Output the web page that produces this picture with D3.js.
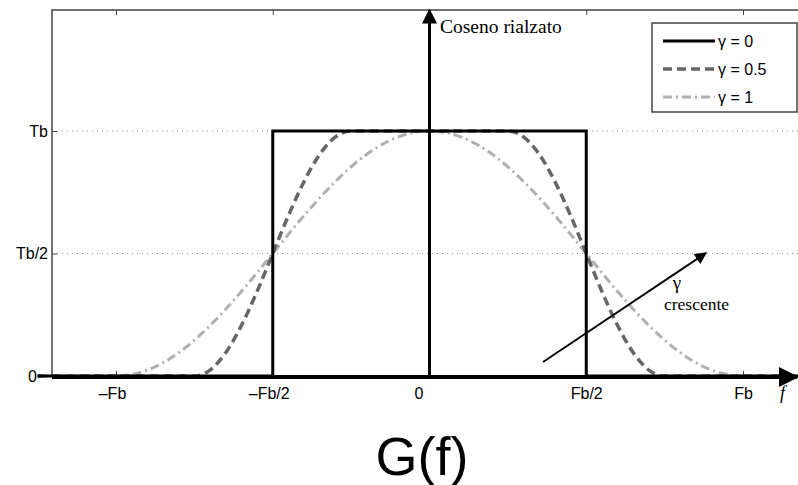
<!DOCTYPE html>
<html>
<head>
<meta charset="utf-8">
<script src="https://cdn.jsdelivr.net/npm/d3@7"></script>
<style>
    body { margin: 0; background: #fff; }
    svg { display: block; }
</style>
</head>
<body>
<div id="chart-container"></div>
<script>
// tick positions and labels (f in units of Fb, G in units of Tb)
const xTicks = [-1, -0.5, 0, 0.5, 1];
const xTickLabels = ["\u2013Fb", "\u2013Fb/2", "0", "Fb/2", "Fb"];
const yTicks = [0, 0.5, 1];
const yTickLabels = ["0", "Tb/2", "Tb"];

// gamma = 0 : ideal rectangle
const rectF = [-1.25, -0.5, -0.5, 0.5, 0.5, 1.25];
const rectG = [0, 0, 1, 1, 0, 0];

// gamma = 0.5 : values
const halfF = [-1.25, -0.75, -0.7, -0.65, -0.6, -0.55, -0.5, -0.45, -0.4, -0.35, -0.3, -0.25,
               0.25, 0.3, 0.35, 0.4, 0.45, 0.5, 0.55, 0.6, 0.65, 0.7, 0.75, 1.25];
const halfG = [0, 0, 0.024, 0.095, 0.206, 0.345, 0.5, 0.655, 0.794, 0.905, 0.976, 1,
               1, 0.976, 0.905, 0.794, 0.655, 0.5, 0.345, 0.206, 0.095, 0.024, 0, 0];

// gamma = 1 : values
const fullF = [-1.25, -1, -0.9, -0.8, -0.7, -0.6, -0.5, -0.4, -0.3, -0.2, -0.1, 0,
               0.1, 0.2, 0.3, 0.4, 0.5, 0.6, 0.7, 0.8, 0.9, 1, 1.25];
const fullG = [0, 0, 0.024, 0.095, 0.206, 0.345, 0.5, 0.655, 0.794, 0.905, 0.976, 1,
               0.976, 0.905, 0.794, 0.655, 0.5, 0.345, 0.206, 0.095, 0.024, 0, 0];

const legendLabels = ["\u03b3 = 0", "\u03b3 = 0.5", "\u03b3 = 1"];

const width = 798;
const height = 485;
const plot = { left: 52, top: 10, right: 806, bottom: 376 };

const svg = d3.select("#chart-container")
    .append("svg")
    .attr("width", width)
    .attr("height", height);

const xScale = d3.scaleLinear().domain([-1, 1]).range([116, 743]);
const yScale = d3.scaleLinear().domain([0, 1]).range([376, 131]);

const sans = "'Liberation Sans', Arial, sans-serif";
const serif = "'Liberation Serif', 'Times New Roman', serif";

const defs = svg.append("defs");
defs.append("marker")
    .attr("id", "head")
    .attr("viewBox", "0 0 10 10")
    .attr("refX", 9).attr("refY", 5)
    .attr("markerWidth", 5).attr("markerHeight", 5)
    .attr("markerUnits", "strokeWidth")
    .attr("orient", "auto")
    .append("path")
    .attr("d", "M0,0 L10,5 L0,10 z")
    .attr("fill", "#000");
defs.append("marker")
    .attr("id", "headSmall")
    .attr("viewBox", "0 0 10 10")
    .attr("refX", 9).attr("refY", 5)
    .attr("markerWidth", 8).attr("markerHeight", 6)
    .attr("markerUnits", "strokeWidth")
    .attr("orient", "auto")
    .append("path")
    .attr("d", "M0,0 L10,5 L0,10 z")
    .attr("fill", "#000");

// dotted grid at Tb/2 and Tb
svg.selectAll(".grid")
    .data([0.5, 1])
    .enter().append("line")
    .attr("x1", plot.left).attr("x2", width)
    .attr("y1", d => yScale(d)).attr("y2", d => yScale(d))
    .attr("stroke", "#888")
    .attr("stroke-width", 1)
    .attr("stroke-dasharray", "1,4");

// box
svg.append("rect")
    .attr("x", plot.left).attr("y", plot.top)
    .attr("width", plot.right - plot.left).attr("height", plot.bottom - plot.top)
    .attr("fill", "none")
    .attr("stroke", "#444")
    .attr("stroke-width", 1.5);

// axes with inward ticks
const xAxis = svg.append("g")
    .attr("transform", `translate(0,${plot.bottom})`)
    .call(d3.axisBottom(xScale).tickValues(xTicks).tickSize(-5).tickPadding(12)
        .tickFormat((d, i) => xTickLabels[i]));
xAxis.select(".domain").remove();
xAxis.selectAll("line").attr("stroke", "#444");
xAxis.selectAll("text")
    .style("font-family", sans).style("font-size", "16px").attr("fill", "#000")
    .attr("dx", d => d === 0 ? -11 : (d < 0 ? -4 : 0));

const topAxis = svg.append("g")
    .attr("transform", `translate(0,${plot.top})`)
    .call(d3.axisTop(xScale).tickValues(xTicks).tickSize(-5).tickFormat(""));
topAxis.select(".domain").remove();
topAxis.selectAll("line").attr("stroke", "#444");

const yAxis = svg.append("g")
    .attr("transform", `translate(${plot.left},0)`)
    .call(d3.axisLeft(yScale).tickValues(yTicks).tickSize(-5).tickPadding(4)
        .tickFormat((d, i) => yTickLabels[i]));
yAxis.select(".domain").remove();
yAxis.selectAll("line").attr("stroke", "#444");
yAxis.selectAll("text")
    .style("font-family", sans).style("font-size", "16px").attr("fill", "#000")
    .attr("dx", d => d === 0 ? -11 : 0);

// curves
const line = d3.line()
    .x(d => xScale(d[0]))
    .y(d => yScale(d[1]));

const series = [
    { f: fullF, g: fullG, color: "#b0b0b0", w: 3, dash: "9,4,2,4", curve: d3.curveMonotoneX },
    { f: halfF, g: halfG, color: "#666", w: 3.5, dash: "9,5", curve: d3.curveMonotoneX },
    { f: rectF, g: rectG, color: "#000", w: 3, dash: null, curve: d3.curveLinear }
];

series.forEach(s => {
    svg.append("path")
        .datum(s.f.map((f, i) => [f, s.g[i]]))
        .attr("d", line.curve(s.curve))
        .attr("fill", "none")
        .attr("stroke", s.color)
        .attr("stroke-width", s.w)
        .attr("stroke-dasharray", s.dash);
});

// f axis arrow along G = 0
svg.append("line")
    .attr("x1", plot.left).attr("x2", width - 1)
    .attr("y1", yScale(0) + 1).attr("y2", yScale(0) + 1)
    .attr("stroke", "#000")
    .attr("stroke-width", 4)
    .attr("marker-end", "url(#head)");

svg.append("text")
    .attr("x", 780).attr("y", 399)
    .style("font-family", serif).style("font-size", "18px").style("font-style", "italic")
    .text("f");

// vertical arrow at f = 0
svg.append("line")
    .attr("x1", xScale(0)).attr("x2", xScale(0))
    .attr("y1", yScale(0)).attr("y2", plot.top)
    .attr("stroke", "#000")
    .attr("stroke-width", 3)
    .attr("marker-end", "url(#head)");

svg.append("text")
    .attr("x", 440).attr("y", 33)
    .style("font-family", serif).style("font-size", "19.5px")
    .text("Coseno rialzato");

// "gamma crescente" arrow
svg.append("line")
    .attr("x1", 543).attr("y1", 362)
    .attr("x2", 706).attr("y2", 253)
    .attr("stroke", "#000")
    .attr("stroke-width", 2)
    .attr("marker-end", "url(#headSmall)");

svg.append("text")
    .attr("x", 677).attr("y", 289)
    .attr("text-anchor", "middle")
    .style("font-family", serif).style("font-size", "19px")
    .text("\u03b3");
svg.append("text")
    .attr("x", 664).attr("y", 310)
    .style("font-family", serif).style("font-size", "17.5px")
    .text("crescente");

// legend
const legend = svg.append("g").attr("transform", "translate(652,23)");
legend.append("rect")
    .attr("width", 145).attr("height", 89)
    .attr("fill", "#fff")
    .attr("stroke", "#444")
    .attr("stroke-width", 1.5);

const legendItems = legend.selectAll(".item")
    .data([series[2], series[1], series[0]])
    .enter().append("g")
    .attr("transform", (d, i) => `translate(0,${18 + i * 28})`);

legendItems.append("line")
    .attr("x1", 11).attr("x2", 63)
    .attr("stroke", d => d.color)
    .attr("stroke-width", d => d.w)
    .attr("stroke-dasharray", d => d.dash);

legendItems.append("text")
    .attr("x", 66).attr("y", 6)
    .style("font-family", sans).style("font-size", "16px")
    .text((d, i) => legendLabels[i]);

// title below
svg.append("text")
    .attr("x", 422).attr("y", 475)
    .attr("text-anchor", "middle")
    .style("font-family", sans).style("font-size", "54px")
    .text("G(f)");
</script>
</body>
</html>
